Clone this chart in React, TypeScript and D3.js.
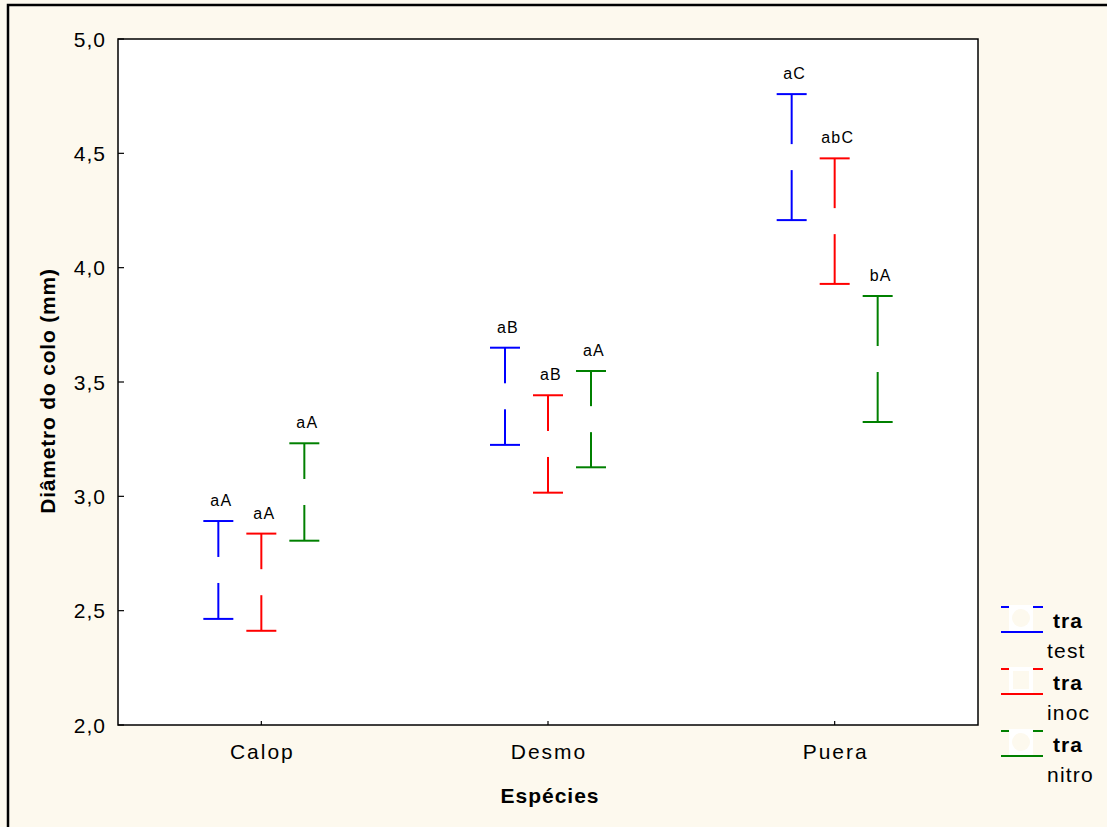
import React from 'react';
import * as d3 from 'd3';

const species = ['Calop', 'Desmo', 'Puera'];
const treatments = ['test', 'inoc', 'nitro'];

// upper / lower limits of the bars, per treatment, in species order
const upperTest = [2.892, 3.650, 4.759];
const lowerTest = [2.464, 3.225, 4.208];
const upperInoc = [2.837, 3.442, 4.478];
const lowerInoc = [2.412, 3.016, 3.929];
const upperNitro = [3.232, 3.548, 3.876];
const lowerNitro = [2.806, 3.127, 3.325];

const lettersTest = ['aA', 'aB', 'aC'];
const lettersInoc = ['aA', 'aB', 'abC'];
const lettersNitro = ['aA', 'aA', 'bA'];

const yTicks = [2.0, 2.5, 3.0, 3.5, 4.0, 4.5, 5.0];

const series = [
  { name: treatments[0], upper: upperTest, lower: lowerTest, letters: lettersTest },
  { name: treatments[1], upper: upperInoc, lower: lowerInoc, letters: lettersInoc },
  { name: treatments[2], upper: upperNitro, lower: lowerNitro, letters: lettersNitro },
];

const W = 1107;
const H = 827;
const plot = { left: 118, top: 39, right: 978, bottom: 725 };
const colors = ['#0000ff', '#ff0000', '#008000'];
const bg = '#fdf9ee';
const font = '"Liberation Sans", Arial, sans-serif';

export default function App() {
  const x = d3.scaleBand<string>()
    .domain(species)
    .range([plot.left, plot.right]);

  const y = d3.scaleLinear()
    .domain([2, 5])
    .range([plot.bottom, plot.top]);

  const off = d3.scalePoint<string>()
    .domain(treatments)
    .range([-43, 43]);

  const cap = 15;
  const fmt = (v: number) => d3.format('.1f')(v).replace('.', ',');

  return (
    <svg width={W} height={H} style={{ position: 'absolute', left: 0, top: 0 }} fontFamily={font}>
      <rect x={0} y={0} width={W} height={H} fill={bg} />
      <rect x={8} y={5} width={W + 20} height={H + 20} fill="none" stroke="#000" strokeWidth={2.5} />

      <rect x={plot.left} y={plot.top} width={plot.right - plot.left} height={plot.bottom - plot.top}
        fill="#fff" stroke="none" />

      {series.map((s, si) => (
        <g key={s.name} stroke={colors[si]} strokeWidth={2}>
          {species.map((sp, i) => {
            const cx = (x(sp) as number) + x.bandwidth() / 2 + (off(s.name) as number);
            const yt = y(s.upper[i]);
            const yb = y(s.lower[i]);
            const ym = (yt + yb) / 2;
            return (
              <g key={sp}>
                <line x1={cx} x2={cx} y1={yt} y2={yb} />
                <line x1={cx - cap} x2={cx + cap} y1={yt} y2={yt} />
                <line x1={cx - cap} x2={cx + cap} y1={yb} y2={yb} />
                <rect x={cx - 12} y={ym - 13} width={24} height={26} fill="#fff" stroke="none" />
                <text x={cx + 3} y={yt - 15} textAnchor="middle" fontSize={16} letterSpacing={1.2}
                  fill="#000" stroke="none">{s.letters[i]}</text>
              </g>
            );
          })}
        </g>
      ))}

      <rect x={plot.left} y={plot.top} width={plot.right - plot.left} height={plot.bottom - plot.top}
        fill="none" stroke="#000" strokeWidth={1.5} />

      {yTicks.map(t => (
        <g key={t}>
          <line x1={plot.left} x2={plot.left + 6} y1={y(t)} y2={y(t)} stroke="#000" strokeWidth={1.2} />
          <text x={106} y={y(t)} dy="0.36em" textAnchor="end" fontSize={21} letterSpacing={1}>{fmt(t)}</text>
        </g>
      ))}

      {species.map(sp => {
        const cx = (x(sp) as number) + x.bandwidth() / 2;
        return (
          <g key={sp}>
            <line x1={cx} x2={cx} y1={plot.bottom} y2={plot.bottom - 4} stroke="#000" strokeWidth={1.2} />
            <text x={cx + 1} y={759} textAnchor="middle" fontSize={21} letterSpacing={2}>{sp}</text>
          </g>
        );
      })}

      <text x={550} y={803} textAnchor="middle" fontSize={21} fontWeight="bold" letterSpacing={1}>Espécies</text>
      <text transform="translate(55,391) rotate(-90)" textAnchor="middle" fontSize={21} fontWeight="bold"
        letterSpacing={0.8}>Diâmetro do colo (mm)</text>

      {series.map((s, si) => {
        const ty = 607 + si * 62;
        return (
          <g key={s.name}>
            <line x1={1001} x2={1043} y1={ty} y2={ty} stroke={colors[si]} strokeWidth={2} />
            <line x1={1001} x2={1043} y1={ty + 25} y2={ty + 25} stroke={colors[si]} strokeWidth={2} />
            <rect x={1009} y={ty - 2} width={24} height={26} fill="#fff" />
            {si === 1
              ? <rect x={1013} y={ty + 2} width={16} height={18} fill={bg} />
              : <circle cx={1021} cy={ty + 11} r={9} fill={bg} />}
            <text x={1053} y={ty + 21} fontSize={21} fontWeight="bold" letterSpacing={1}>tra</text>
            <text x={1047} y={ty + 51} fontSize={21} letterSpacing={1.2}>{s.name}</text>
          </g>
        );
      })}
    </svg>
  );
}
